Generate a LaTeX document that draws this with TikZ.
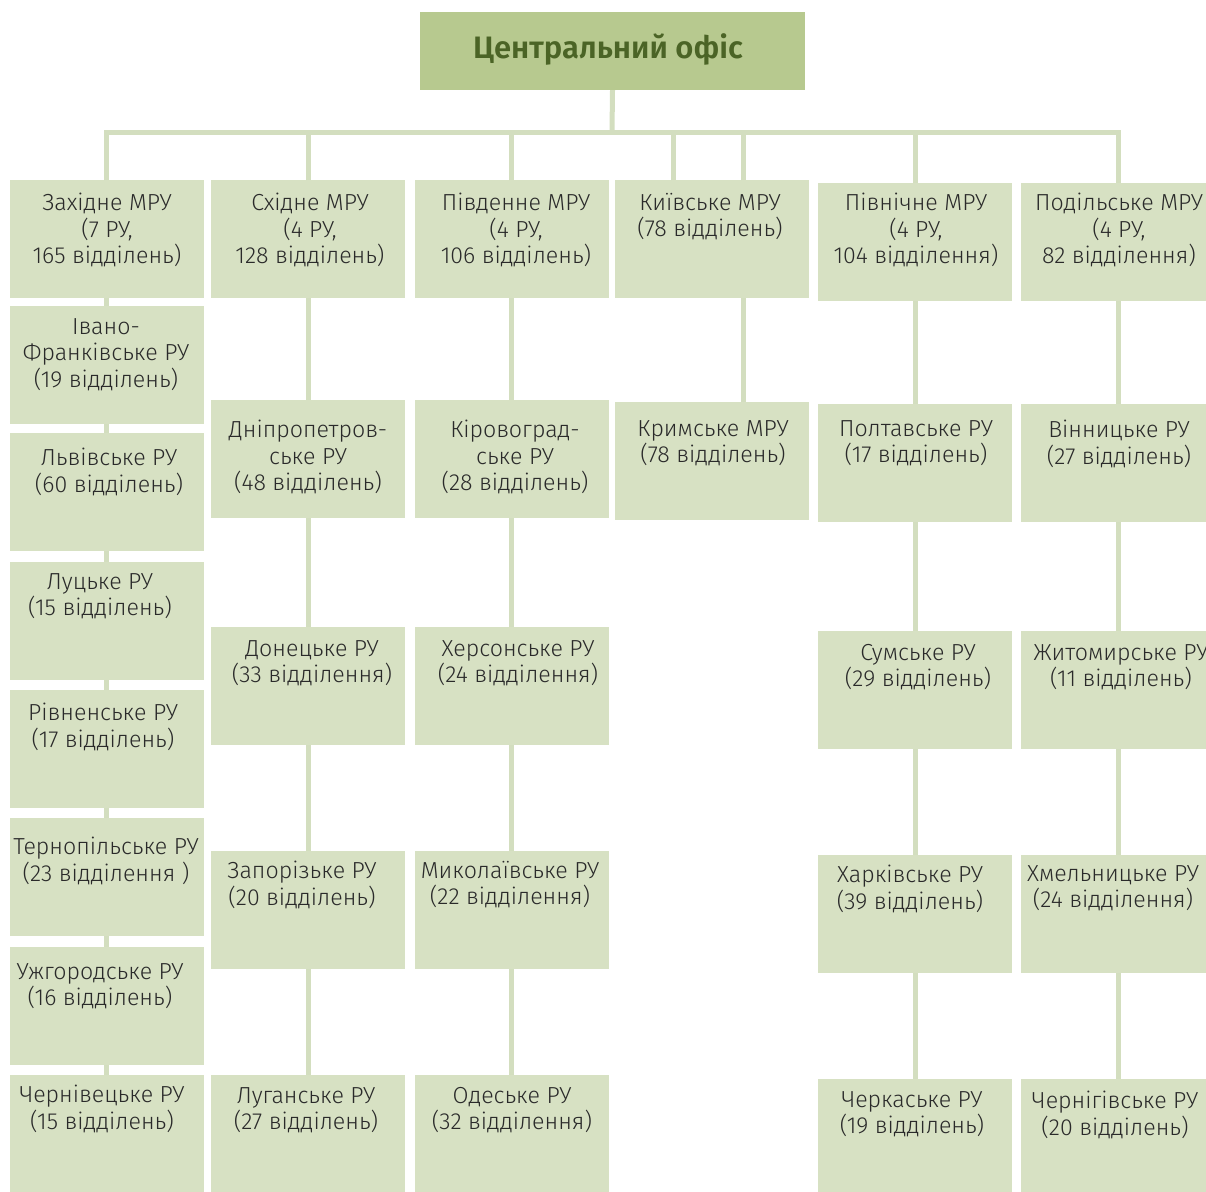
\documentclass[tikz,border=0pt]{standalone}
\usepackage{fontspec}
\setmainfont{Fira Sans}[UprightFont=* Light, BoldFont=* SemiBold]
\usepackage{tikz}
\definecolor{boxgreen}{HTML}{D7E1C3}
\definecolor{linegreen}{HTML}{D3DEBF}
\definecolor{topgreen}{HTML}{B7C98F}
\definecolor{titlegreen}{HTML}{4B6426}
\definecolor{txtgray}{HTML}{2A2A2A}
\tikzset{
  unit/.style={fill=boxgreen, anchor=north, inner sep=0pt, minimum width=194pt, minimum height=118pt},
  lbl/.style={anchor=north, yshift=8pt, align=center, inner sep=0pt, text=txtgray,
    font=\fontsize{23.2}{26.5}\selectfont, execute at begin node=\strut},
  link/.style={draw=linegreen, line width=5pt}
}
\begin{document}
\begin{tikzpicture}[x=1pt,y=-1pt]
\useasboundingbox (0,0) rectangle (1206,1191);
% central office
\node[fill=topgreen, minimum width=385pt, minimum height=78pt, inner sep=0pt](cen) at (612.5,51){};
\node[text=titlegreen, font=\fontsize{31}{36}\selectfont\bfseries, inner sep=0pt](cen-t) at (608,49){Центральний офіс};
\coordinate (bus) at (612,132);
% column 1
\node[unit](zah) at (106.5,180){};
\node[unit](ivf) at (106.5,306){};
\node[unit](lvi) at (106.5,433){};
\node[unit](lut) at (106.5,562){};
\node[unit](riv) at (106.5,690){};
\node[unit](ter) at (106.5,818){};
\node[unit](uzh) at (106.5,947){};
\node[unit](chv) at (106.5,1075){};
% column 2
\node[unit](skh) at (308,180){};
\node[unit](dni) at (308,400){};
\node[unit](don) at (308,627){};
\node[unit](zap) at (308,851){};
\node[unit](lug) at (308,1075){};
% column 3
\node[unit](pvd) at (511.5,180){};
\node[unit](kir) at (511.5,400){};
\node[unit](khe) at (511.5,627){};
\node[unit](myk) at (511.5,851){};
\node[unit](ode) at (511.5,1075){};
% column 4
\node[unit](kyi) at (712,180){};
\node[unit](kry) at (712,402){};
% column 5
\node[unit](pvn) at (915,183){};
\node[unit](pol) at (915,404){};
\node[unit](sum) at (915,631){};
\node[unit](kha) at (915,855){};
\node[unit](che) at (915,1079){};
% column 6
\node[unit](pod) at (1118,183){};
\node[unit](vin) at (1118,404){};
\node[unit](zhy) at (1118,631){};
\node[unit](khm) at (1118,855){};
\node[unit](chg) at (1118,1079){};
% connectors
\draw[link] (cen.south) -- (bus);
\draw[link] (zah.north) |- (bus) -| (pod.north);
\draw[link] (skh.north) -- (skh.north |- bus);
\draw[link] (pvd.north) -- (pvd.north |- bus);
\draw[link] ([xshift=-39pt]kyi.north) -- ([xshift=-39pt]kyi.north |- bus);
\draw[link] ([xshift=31pt]kyi.north) -- ([xshift=31pt]kyi.north |- bus);
\draw[link] (pvn.north) -- (pvn.north |- bus);
\draw[link] (zah.south) -- (ivf.north);
\draw[link] (ivf.south) -- (lvi.north);
\draw[link] (lvi.south) -- (lut.north);
\draw[link] (lut.south) -- (riv.north);
\draw[link] (riv.south) -- (ter.north);
\draw[link] (ter.south) -- (uzh.north);
\draw[link] (uzh.south) -- (chv.north);
\draw[link] (skh.south) -- (dni.north);
\draw[link] (dni.south) -- (don.north);
\draw[link] (don.south) -- (zap.north);
\draw[link] (zap.south) -- (lug.north);
\draw[link] (pvd.south) -- (kir.north);
\draw[link] (kir.south) -- (khe.north);
\draw[link] (khe.south) -- (myk.north);
\draw[link] (myk.south) -- (ode.north);
\draw[link] ([xshift=31pt]kyi.south) -- ([xshift=31pt]kry.north);
\draw[link] (pvn.south) -- (pol.north);
\draw[link] (pol.south) -- (sum.north);
\draw[link] (sum.south) -- (kha.north);
\draw[link] (kha.south) -- (che.north);
\draw[link] (pod.south) -- (vin.north);
\draw[link] (vin.south) -- (zhy.north);
\draw[link] (zhy.south) -- (khm.north);
\draw[link] (khm.south) -- (chg.north);
% labels
\node[lbl](zah-t) at (107,201){Західне МРУ\\(7 РУ,\\165 відділень)};
\node[lbl](ivf-t) at (106,326){Івано-\\Франківське РУ\\(19 відділень)};
\node[lbl](lvi-t) at (109,456){Львівське РУ\\(60 відділень)};
\node[lbl](lut-t) at (100,581){Луцьке РУ\\(15 відділень)};
\node[lbl](riv-t) at (103,711){Рівненське РУ\\(17 відділень)};
\node[lbl](ter-t) at (106,845){Тернопільське РУ\\(23 відділення )};
\node[lbl](uzh-t) at (100,971){Ужгородське РУ\\(16 відділень)};
\node[lbl](chv-t) at (102,1093){Чернівецьке РУ\\(15 відділень)};
\node[lbl](skh-t) at (310,201){Східне МРУ\\(4 РУ,\\128 відділень)};
\node[lbl](dni-t) at (308,428){Дніпропетров-\\ське РУ\\(48 відділень)};
\node[lbl](don-t) at (312,648){Донецьке РУ\\(33 відділення)};
\node[lbl](zap-t) at (302,869){Запорізьке РУ\\(20 відділень)};
\node[lbl](lug-t) at (306,1095){Луганське РУ\\(27 відділень)};
\node[lbl](pvd-t) at (516,201){Південне МРУ\\(4 РУ,\\106 відділень)};
\node[lbl](kir-t) at (515,428){Кіровоград-\\ське РУ\\(28 відділень)};
\node[lbl](khe-t) at (518,648){Херсонське РУ\\(24 відділення)};
\node[lbl](myk-t) at (510,869){Миколаївське РУ\\(22 відділення)};
\node[lbl](ode-t) at (512,1095){Одеське РУ\\(32 відділення)};
\node[lbl](kyi-t) at (710,201){Київське МРУ\\(78 відділень)};
\node[lbl](kry-t) at (713,428){Кримське МРУ\\(78 відділень)};
\node[lbl](pvn-t) at (916,201){Північне МРУ\\(4 РУ,\\104 відділення)};
\node[lbl](pol-t) at (916,428){Полтавське РУ\\(17 відділень)};
\node[lbl](sum-t) at (918,652){Сумське РУ\\(29 відділень)};
\node[lbl](kha-t) at (910,873){Харківське РУ\\(39 відділень)};
\node[lbl](che-t) at (912,1099){Черкаське РУ\\(19 відділень)};
\node[lbl](pod-t) at (1119,201){Подільське МРУ\\(4 РУ,\\82 відділення)};
\node[lbl](vin-t) at (1119,428){Вінницьке РУ\\(27 відділень)};
\node[lbl](zhy-t) at (1121,652){Житомирське РУ\\(11 відділень)};
\node[lbl](khm-t) at (1113,873){Хмельницьке РУ\\(24 відділення)};
\node[lbl](chg-t) at (1115,1099){Чернігівське РУ\\(20 відділень)};
\end{tikzpicture}
\end{document}
